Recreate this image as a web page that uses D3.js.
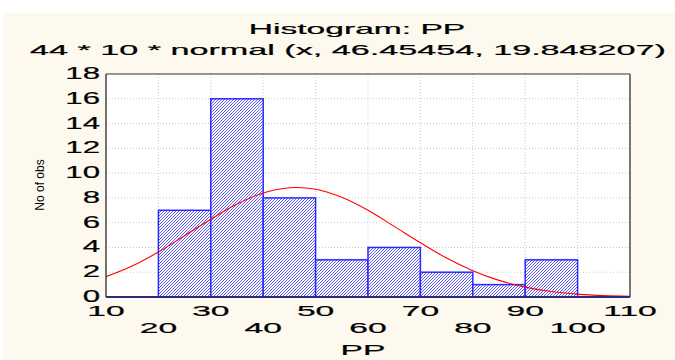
<!DOCTYPE html>
<html>
<head>
<meta charset="utf-8">
<script src="https://cdn.jsdelivr.net/npm/d3@7"></script>
<style>
  body { margin: 0; background: #fff; }
  text { font-family: "Liberation Sans", Arial, sans-serif; fill: #000; }
  .tx { stroke: #000; stroke-width: 0.2px; }
</style>
</head>
<body>
<svg id="chart"></svg>
<script>
// histogram bins and counts
const binStarts = [20, 30, 40, 50, 60, 70, 80, 90];
const binWidth = 10;
const counts = [7, 16, 8, 3, 4, 2, 1, 3];

// fitted normal curve
const curveX = [10, 15, 20, 25, 30, 35, 40, 45, 50, 55, 60, 65, 70, 75, 80, 85, 90, 95, 100, 105, 110];
const curveY = [1.64, 2.5, 3.63, 4.95, 6.28, 7.5, 8.4, 8.82, 8.7, 8.05, 7.0, 5.7, 4.38, 3.14, 2.12, 1.34, 0.8, 0.44, 0.23, 0.11, 0.05];

const xTicks = [10, 20, 30, 40, 50, 60, 70, 80, 90, 100, 110];
const yTicks = [0, 2, 4, 6, 8, 10, 12, 14, 16, 18];

const W = 675, H = 360;
const margin = { top: 74, right: 45, bottom: 63, left: 106 };
const width = W - margin.left - margin.right;
const height = H - margin.top - margin.bottom;

const svg = d3.select("#chart").attr("width", W).attr("height", H);

// page background
svg.append("rect").attr("x", 3).attr("y", 13).attr("width", W).attr("height", H).attr("fill", "#fdf9ee");

const defs = svg.append("defs");
const pat = defs.append("pattern")
    .attr("id", "hatch")
    .attr("patternUnits", "userSpaceOnUse")
    .attr("width", 3).attr("height", 3);
pat.append("rect").attr("width", 3).attr("height", 3).attr("fill", "#fff");
pat.append("path")
    .attr("d", "M0,3 L3,0 M-1,1 L1,-1 M2,4 L4,2")
    .attr("stroke", "#4a4aff").attr("stroke-width", 0.9);

defs.append("clipPath").attr("id", "clip")
    .append("rect").attr("width", width).attr("height", height);

const x = d3.scaleLinear().domain([10, 110]).range([0, width]);
const y = d3.scaleLinear().domain([0, 18]).range([height, 0]);

const g = svg.append("g").attr("transform", "translate(" + margin.left + "," + margin.top + ")");

g.append("rect").attr("width", width).attr("height", height).attr("fill", "#fff");

// grid
g.append("g").selectAll("line")
    .data(yTicks.slice(1, -1))
    .enter().append("line")
    .attr("x1", 0).attr("x2", width)
    .attr("y1", d => y(d)).attr("y2", d => y(d))
    .attr("stroke", "#c8c8c8").attr("stroke-dasharray", "1,2");
g.append("g").selectAll("line")
    .data(xTicks.slice(1, -1))
    .enter().append("line")
    .attr("y1", 0).attr("y2", height)
    .attr("x1", d => x(d)).attr("x2", d => x(d))
    .attr("stroke", "#c8c8c8").attr("stroke-dasharray", "1,2");

// bars
g.selectAll(".bar")
    .data(counts)
    .enter().append("rect")
    .attr("class", "bar")
    .attr("x", (d, i) => x(binStarts[i]))
    .attr("width", (d, i) => x(binStarts[i] + binWidth) - x(binStarts[i]))
    .attr("y", d => y(d))
    .attr("height", d => y(0) - y(d))
    .attr("fill", "url(#hatch)")
    .attr("stroke", "#2a2aff").attr("stroke-width", 1.5);

// normal curve
const line = d3.line()
    .x((d, i) => x(curveX[i]))
    .y(d => y(d))
    .curve(d3.curveCatmullRom);
g.append("path")
    .datum(curveY)
    .attr("clip-path", "url(#clip)")
    .attr("fill", "none")
    .attr("stroke", "#ff0000").attr("stroke-width", 1.1)
    .attr("d", line);

// frame
g.append("line").attr("x1", 0).attr("x2", width).attr("y1", 0).attr("y2", 0)
    .attr("stroke", "#333").attr("stroke-width", 1.2);
g.append("line").attr("x1", width).attr("x2", width).attr("y1", 0).attr("y2", height)
    .attr("stroke", "#777").attr("stroke-width", 2);
g.append("line").attr("x1", 0).attr("x2", 0).attr("y1", 0).attr("y2", height)
    .attr("stroke", "#444").attr("stroke-width", 1.5);
g.append("line").attr("x1", 0).attr("x2", width).attr("y1", height).attr("y2", height)
    .attr("stroke", "#2b2b7a").attr("stroke-width", 2);

// stretched text helper (the original export is widened horizontally)
function stretchText(parent, tx, ty, str, size, k, anchor) {
    return parent.append("text")
        .attr("class", "tx")
        .attr("transform", "translate(" + tx + "," + ty + ") scale(" + k + ",1)")
        .attr("text-anchor", anchor)
        .style("font-size", size + "px")
        .text(str);
}

// y tick labels
yTicks.forEach(v => {
    stretchText(g, -6, y(v) + 5, v, 16, 1.95, "end");
});

// x tick labels, staggered in two rows
xTicks.forEach((v, i) => {
    stretchText(g, x(v), height + (i % 2 === 0 ? 19 : 36), v, 14, 2.4, "middle");
});

// titles
stretchText(svg, 357, 34, "Histogram: PP", 14, 2.4, "middle");
stretchText(svg, 30, 55, "44 * 10 * normal (x, 46.45454, 19.848207)", 14, 2.44, "start");
stretchText(svg, margin.left + width / 2 - 5, 355, "PP", 14, 2.4, "middle");

svg.append("text")
    .attr("transform", "translate(44,185) rotate(-90)")
    .attr("text-anchor", "middle")
    .style("font-size", "12px")
    .text("No of obs");
</script>
</body>
</html>
